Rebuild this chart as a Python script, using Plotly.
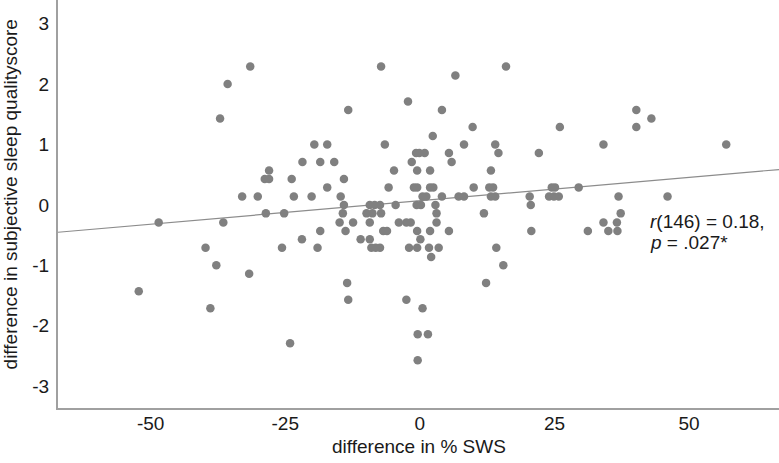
import numpy as np
import plotly.graph_objects as go

# difference in % SWS (x) and difference in subjective sleep quality score (y)
sws_diff = [
    -31.5, -35.7, -37.1, -33.0, -30.1, -7.2, 6.6, 16.0, -2.2, -13.3,
    4.1, 9.8, 2.4, -19.6, -17.2, -6.5, 8.2, 14.0,
    -0.7, -0.1, 0.9, 5.4, 14.6,
    -21.8, -18.5, -15.9, -1.5, 5.9,
    -28.0, -4.8, -0.5, 1.9, 13.2,
    -28.8, -28.0, -23.8, -14.1,
    -17.2, -5.8, -1.1, -0.5, 1.9, 2.5, 10.0, 12.9, 13.6,
    -23.4, -20.1, -14.7, 0.5, 1.2, 4.1, 7.2, 8.2, 13.2, 14.0,
    -14.1, -9.3, -8.4, -7.4, -4.5, -0.6, 0.2, 2.9,
    40.2, 43.0, 26.0, 40.2, 34.1, 56.9, 22.1, 20.4, 20.6, 24.5,
    25.1, 24.0, 24.9, 25.8, 29.5, 36.9, 46.0, 20.7, 31.2, 34.1,
    35.0, 36.6, 36.7, 37.3, 15.5,
    -48.5, -36.5, -39.8, -37.8, -31.7, -52.2, -38.9,
    -28.6, -25.2, -14.3, -9.9, -8.8, -7.2, 3.1, 11.9,
    -14.9, -12.4, -9.3, -3.9, -2.5, -1.7, 3.1,
    -18.5, -13.8, -6.8, -6.1, -0.5, 1.9, 5.4,
    -21.9, -11.0, -9.3, 0.1,
    -25.6, -19.0, -9.0, -8.2, -7.4, -2.0, -0.5, 1.7, 3.5, 14.2,
    2.1,
    -13.5, 12.3,
    -13.3, -2.5,
    0.5,
    -0.4, 1.5,
    -24.1,
    -0.4,
]
quality_diff = [
    2.29, 2.00, 1.43, 0.14, 0.14, 2.29, 2.14, 2.29, 1.71, 1.57,
    1.57, 1.29, 1.14, 1.00, 1.00, 1.00, 1.00, 1.00,
    0.86, 0.86, 0.86, 0.86, 0.86,
    0.71, 0.71, 0.71, 0.71, 0.71,
    0.57, 0.57, 0.57, 0.57, 0.57,
    0.43, 0.43, 0.43, 0.43,
    0.29, 0.29, 0.29, 0.29, 0.29, 0.29, 0.29, 0.29, 0.29,
    0.14, 0.14, 0.14, 0.14, 0.14, 0.14, 0.14, 0.14, 0.14, 0.14,
    0.00, 0.00, 0.00, 0.00, 0.00, 0.00, 0.00, 0.00,
    1.57, 1.43, 1.29, 1.29, 1.00, 1.00, 0.86, 0.14, 0.00, 0.29,
    0.29, 0.14, 0.14, 0.14, 0.29, 0.14, 0.14, -0.43, -0.43, -0.29,
    -0.43, -0.29, -0.43, -0.14, -1.00,
    -0.29, -0.29, -0.71, -1.00, -1.14, -1.43, -1.71,
    -0.14, -0.14, -0.14, -0.14, -0.14, -0.14, -0.14, -0.14,
    -0.29, -0.29, -0.29, -0.29, -0.29, -0.29, -0.29,
    -0.43, -0.43, -0.43, -0.43, -0.43, -0.43, -0.43,
    -0.57, -0.57, -0.57, -0.57,
    -0.71, -0.71, -0.71, -0.71, -0.71, -0.71, -0.71, -0.71, -0.71, -0.71,
    -0.86,
    -1.29, -1.29,
    -1.57, -1.57,
    -1.71,
    -2.14, -2.14,
    -2.29,
    -2.57,
]

x_ticks = [-50, -25, 0, 25, 50]
x_tick_labels = ["-50", "-25", "0", "25", "50"]
y_ticks = [-3, -2, -1, 0, 1, 2, 3]
y_tick_labels = ["-3", "-2", "-1", "0", "1", "2", "3"]
x_range = [-67.2, 66.7]
y_range = [-3.36, 3.39]
stat_line1 = "<i>r</i>(146) = 0.18,"
stat_line2 = "<i>p</i> = .027*"

x = np.array(sws_diff)
y = np.array(quality_diff)
slope, intercept = np.polyfit(x, y, 1)
fit_x = np.array(x_range)
fit_y = intercept + slope * fit_x

FONT = "Liberation Sans, Arial, sans-serif"
TXT = "#1a1a1a"

fig = go.Figure()
fig.add_trace(go.Scatter(
    x=fit_x, y=fit_y, mode="lines",
    line=dict(color="#8c8c8c", width=1.2),
    hoverinfo="skip", showlegend=False,
))
fig.add_trace(go.Scatter(
    x=x, y=y, mode="markers",
    marker=dict(color="#808080", size=8.5, line=dict(width=0)),
    showlegend=False,
))

fig.update_layout(
    width=779, height=463,
    margin=dict(l=58, r=0, t=0, b=55, autoexpand=False),
    paper_bgcolor="white", plot_bgcolor="white",
    font=dict(family=FONT, size=19, color=TXT),
    xaxis=dict(
        range=x_range, tickvals=x_ticks, ticktext=x_tick_labels,
        showgrid=False, zeroline=False,
        showline=True, linecolor="#a0a0a0", linewidth=2,
        ticks="", ticklabelstandoff=-3,
        tickfont=dict(size=19, color=TXT),
    ),
    yaxis=dict(
        range=y_range, tickvals=y_ticks, ticktext=y_tick_labels,
        showgrid=False, zeroline=False,
        showline=True, linecolor="#a0a0a0", linewidth=2,
        ticks="", ticklabelstandoff=3,
        tickfont=dict(size=19, color=TXT),
    ),
    annotations=[
        dict(text="difference in % SWS", xref="paper", yref="paper",
             x=0.5, y=-0.095, xanchor="center", yanchor="middle",
             showarrow=False, font=dict(size=19, color=TXT)),
        dict(text="difference in subjective sleep qualityscore", xref="paper", yref="paper",
             x=-0.066, y=0.5245, xanchor="center", yanchor="middle", textangle=-90,
             showarrow=False, font=dict(size=19, color=TXT)),
        dict(text=stat_line1, xref="x", yref="y", x=42.4, y=-0.27,
             xanchor="left", yanchor="middle", showarrow=False,
             font=dict(size=19, color=TXT)),
        dict(text=stat_line2, xref="x", yref="y", x=42.4, y=-0.63,
             xanchor="left", yanchor="middle", showarrow=False,
             font=dict(size=19, color=TXT)),
    ],
)

fig.write_html("out.html", config={"displayModeBar": False},
               post_script="document.body.style.margin='0';")
